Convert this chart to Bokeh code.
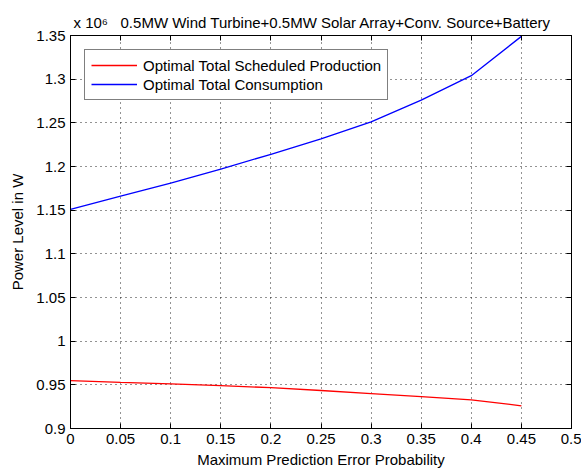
from bokeh.plotting import figure
from bokeh.models import (LinearAxis, FixedTicker, CustomJSTickFormatter,
                          Legend, LegendItem, Range1d, Title)
from bokeh.embed import file_html
from bokeh.resources import INLINE

# ---- data (power in units of 10^6 W) ----
error_prob = [0.0, 0.05, 0.10, 0.15, 0.20, 0.25, 0.30, 0.35, 0.40, 0.45]
production = [0.9549, 0.9528, 0.9510, 0.9490, 0.9468, 0.9435, 0.9400, 0.9366, 0.9328, 0.9260]
consumption = [1.151, 1.166, 1.181, 1.197, 1.214, 1.2315, 1.251, 1.276, 1.304, 1.349]

x_ticks = [0.0, 0.05, 0.1, 0.15, 0.2, 0.25, 0.3, 0.35, 0.4, 0.45, 0.5]
x_tick_labels = ["0", "0.05", "0.1", "0.15", "0.2", "0.25", "0.3", "0.35", "0.4", "0.45", "0.5"]
y_ticks = [0.9, 0.95, 1.0, 1.05, 1.1, 1.15, 1.2, 1.25, 1.3, 1.35]
y_tick_labels = ["0.9", "0.95", "1", "1.05", "1.1", "1.15", "1.2", "1.25", "1.3", "1.35"]

multiplier_text = "x 10\u2076"
title_text = "0.5MW Wind Turbine+0.5MW Solar Array+Conv. Source+Battery"
x_label = "Maximum Prediction Error Probability"
y_label = "Power Level in W"
series_names = ["Optimal Total Scheduled Production", "Optimal Total Consumption"]

FONT = "Liberation Sans"
FS = "15px"

p = figure(width=581, height=471, x_range=Range1d(0, 0.5), y_range=Range1d(0.9, 1.35),
           output_backend="svg", toolbar_location=None,
           min_border_left=70, min_border_right=10, min_border_top=35, min_border_bottom=43)
p.background_fill_color = "white"
p.border_fill_color = "white"
p.outline_line_color = "black"
p.outline_line_width = 1

xt = FixedTicker(ticks=x_ticks)
yt = FixedTicker(ticks=y_ticks)

for ax, t, labs in ((p.xaxis[0], xt, x_tick_labels), (p.yaxis[0], yt, y_tick_labels)):
    ax.ticker = t
    ax.major_label_overrides = {tv: lab for tv, lab in zip(t.ticks, labs)}
    ax.major_tick_in = 5
    ax.major_tick_out = 0
    ax.minor_tick_line_color = None
    ax.axis_line_color = "black"
    ax.major_tick_line_color = "black"
    ax.major_label_text_font = FONT
    ax.major_label_text_font_size = FS
    ax.major_label_text_color = "black"
    ax.axis_label_text_font = FONT
    ax.axis_label_text_font_size = FS
    ax.axis_label_text_font_style = "normal"
    ax.axis_label_text_color = "black"

p.xaxis[0].axis_label = x_label
p.yaxis[0].axis_label = y_label
p.xaxis[0].major_label_standoff = 5
p.xaxis[0].axis_label_standoff = 4
p.yaxis[0].major_label_standoff = 5
p.yaxis[0].axis_label_standoff = 7

blank = CustomJSTickFormatter(code="return '';")
for loc, t in (("above", xt), ("right", yt)):
    ax = LinearAxis(ticker=t, formatter=blank, major_tick_in=5, major_tick_out=0,
                    minor_tick_line_color=None, major_label_standoff=0,
                    axis_line_color="black", major_tick_line_color="black")
    p.add_layout(ax, loc)

for g in (p.xgrid[0], p.ygrid[0]):
    g.grid_line_color = "black"
    g.grid_line_dash = "1 4"
    g.grid_line_alpha = 0.85
    g.grid_line_width = 1

r1 = p.line(error_prob, production, line_color="#ff0000", line_width=1.3)
r2 = p.line(error_prob, consumption, line_color="#0000ff", line_width=1.3)

legend = Legend(items=[LegendItem(label=series_names[0], renderers=[r1]),
                       LegendItem(label=series_names[1], renderers=[r2])],
                location="top_left", margin=14, padding=6, spacing=1,
                glyph_width=46, glyph_height=18, label_height=18, label_standoff=6,
                border_line_color="black", border_line_width=1,
                background_fill_color="white", background_fill_alpha=1,
                label_text_font=FONT, label_text_font_size=FS, label_text_color="black")
p.add_layout(legend)

full_title = multiplier_text + "\u00a0" * 3 + title_text
p.add_layout(Title(text=full_title, align="left", offset=3, standoff=10,
                   text_font=FONT, text_font_size=FS, text_font_style="normal",
                   text_color="black"), "above")

open("out.html", "w").write(file_html(p, INLINE))
